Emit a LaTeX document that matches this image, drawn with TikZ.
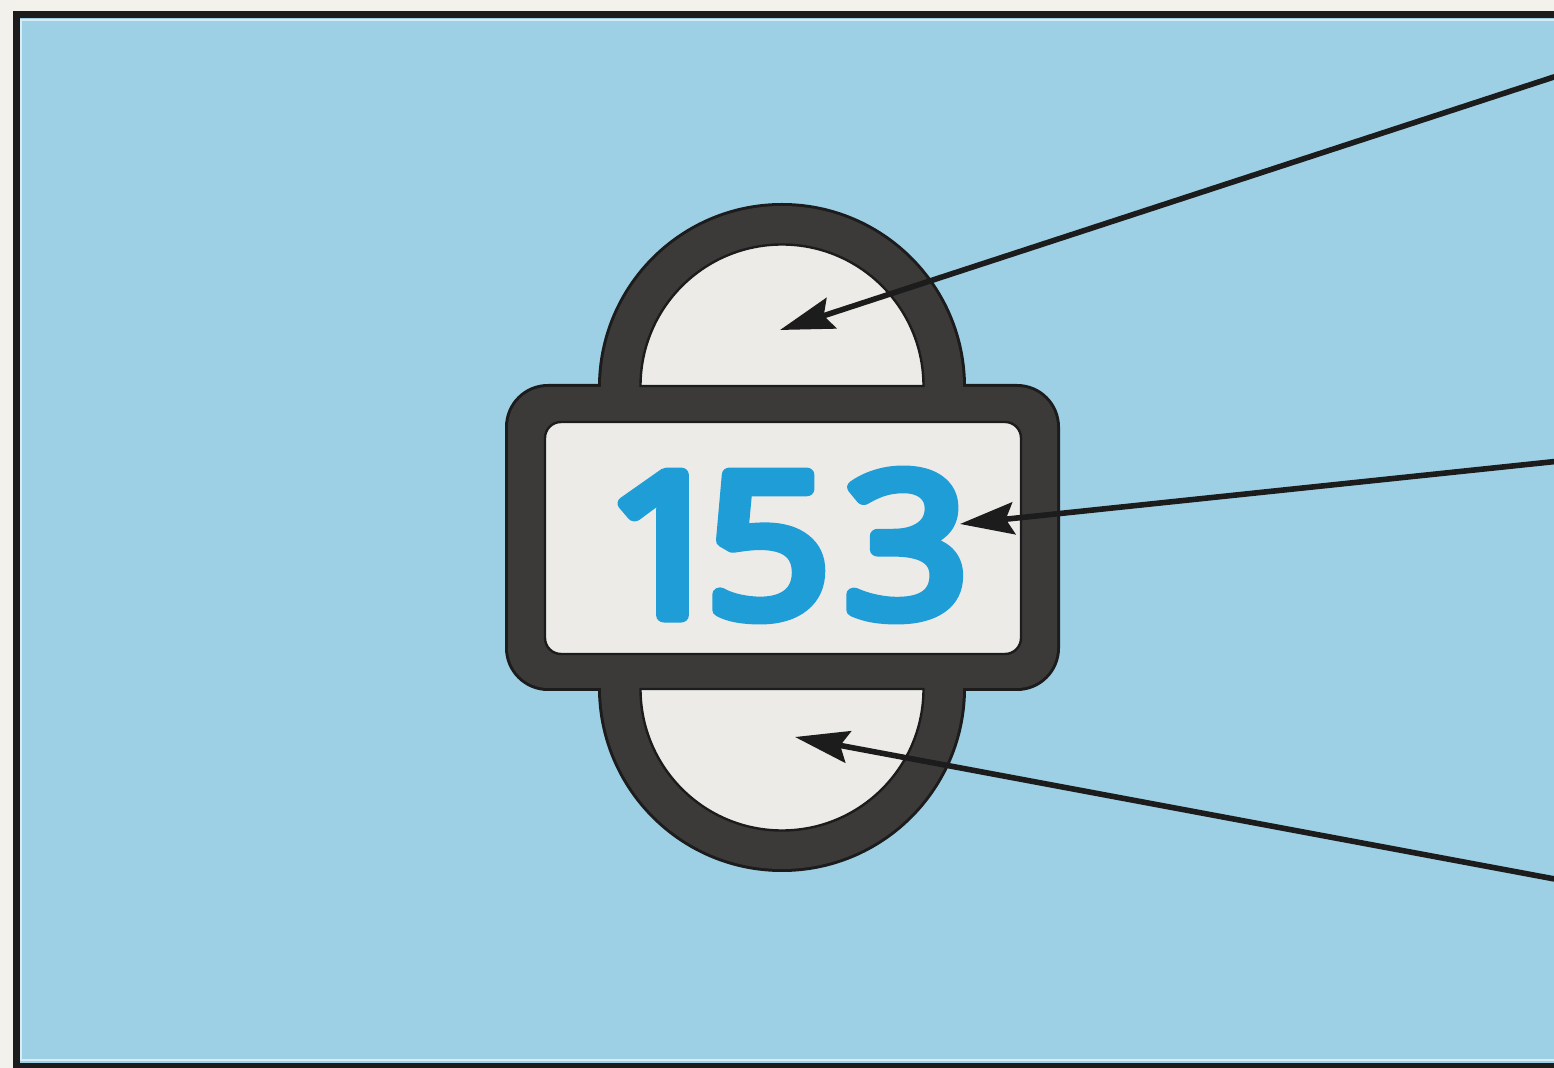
\documentclass[tikz,border=0pt]{standalone}
\usepackage{fontspec}
\usepackage{graphicx}
\newfontfamily\numfont{Open Sans}[Numbers=Proportional]
\usetikzlibrary{arrows.meta}
\definecolor{paper}{HTML}{F2F1EC}
\definecolor{sky}{HTML}{9DD0E5}
\definecolor{ring}{HTML}{3C3939}
\definecolor{face}{HTML}{ECEBE8}
\definecolor{numblue}{HTML}{1E9DD6}
\definecolor{ink}{HTML}{1C1C1C}
\newcommand{\roundstroke}[1]{\special{pdf:literal 2 Tr 1 j 1 J 7 w}#1\special{pdf:literal 0 Tr 0 j 0 J 0.4 w}}
\tikzset{
  conn/.style={draw=ink, line width=2.8pt, line cap=round,
    -{Stealth[length=27pt,width=16pt,inset=4pt]}},
  outline/.style={draw=ink, line width=3pt},
  ringfill/.style={fill=ring},
  facebox/.style={fill=face, draw=ink, line width=1.2pt},
  numtext/.style={text=numblue, inner sep=0pt, font=\numfont\fontsize{98.7pt}{99pt}\selectfont}
}
\begin{document}
\begin{tikzpicture}[x=0.5pt,y=-0.5pt]
\useasboundingbox (0,0) rectangle (1554,1068);
\clip (0,0) rectangle (1554,1068);
% paper and frame
\fill[paper] (0,0) rectangle (1554,1068);
\filldraw[fill=sky, draw=ink, line width=3.5pt] (16,15) rectangle (1620,1067);
\draw[white!60!sky, line width=1pt] (21,20) rectangle (1620,1060);
% dark emblem: outline then fill (union)
\draw[outline, rounded corners=20pt] (508,387) rectangle (1057,688);
\draw[outline] (782,387) circle[radius=181];
\draw[outline] (782,688) circle[radius=181];
\fill[ringfill, rounded corners=20pt] (508,387) rectangle (1057,688);
\fill[ringfill] (782,387) circle[radius=181];
\fill[ringfill] (782,688) circle[radius=181];
% light faces
\filldraw[facebox, rounded corners=8pt] (545,422) rectangle (1021,654);
\filldraw[facebox] (640.5,386) arc[start angle=180, end angle=360, radius=141.5] -- cycle;
\filldraw[facebox] (640.5,689) arc[start angle=180, end angle=0, radius=141.5] -- cycle;
% number
\node[numtext] (num) at (794,545) {\scalebox{1.1}[1]{\roundstroke{15\kern6.4pt3}}};
% arrows
\coordinate (sA) at (1560,75);
\coordinate (tA) at (780,330);
\coordinate (sB) at (1560,461);
\coordinate (tB) at (960,524);
\coordinate (sC) at (1560,880);
\coordinate (tC) at (795,737);
\draw[conn] (sA) -- (tA);
\draw[conn] (sB) -- (tB);
\draw[conn] (sC) -- (tC);
\end{tikzpicture}
\end{document}
